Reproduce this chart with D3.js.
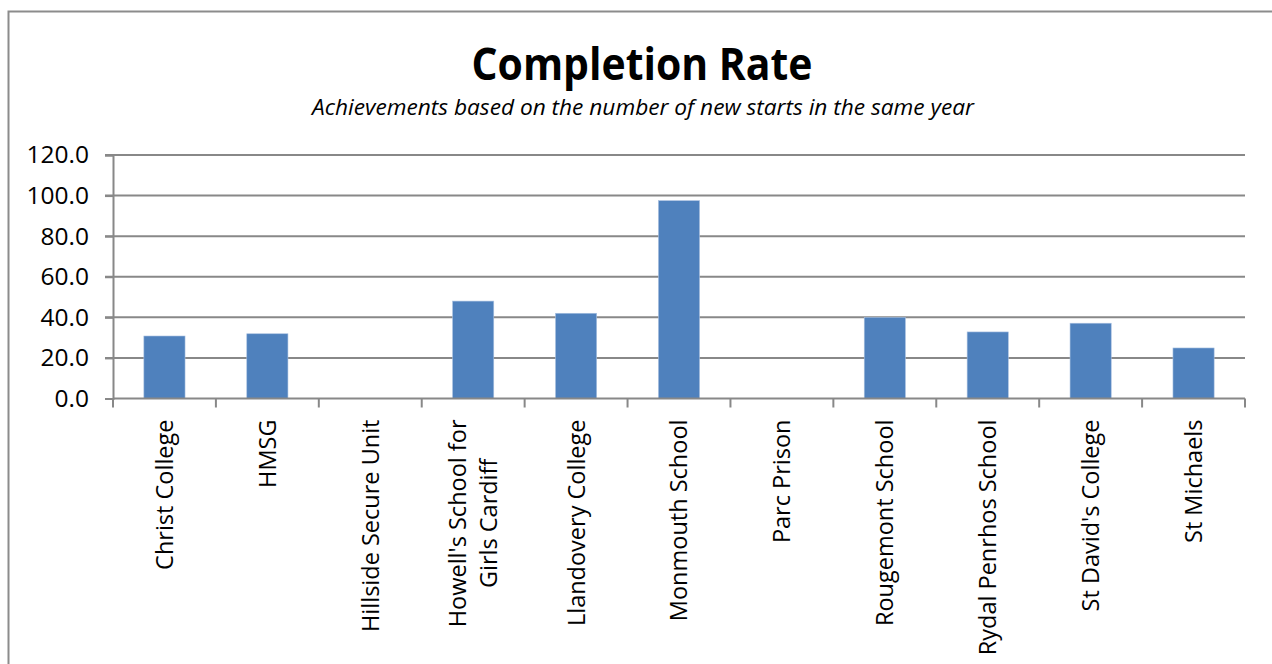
<!DOCTYPE html>
<html>
<head>
<meta charset="utf-8">
<script src="https://d3js.org/d3.v7.min.js"></script>
<style>
  html, body { margin: 0; padding: 0; background: #fff; }
  svg { display: block; }
  text { font-family: "Open Sans", "Noto Sans", sans-serif; fill: #000; }
</style>
</head>
<body>
<svg id="chart" width="1272" height="664"></svg>
<script>
const chartTitle = "Completion Rate";
const chartSubtitle = "Achievements based on the number of new starts in the same year";
const categories = [
  ["Christ College"],
  ["HMSG"],
  ["Hillside Secure Unit"],
  ["Howell's School for", "Girls Cardiff"],
  ["Llandovery College"],
  ["Monmouth School"],
  ["Parc Prison"],
  ["Rougemont School"],
  ["Rydal Penrhos School"],
  ["St David's College"],
  ["St Michaels"]
];
const completionRate = [30.8, 31.9, 0, 48.0, 42.0, 97.5, 0, 40.0, 32.8, 37.1, 24.9];
const yTicks = [0, 20, 40, 60, 80, 100, 120];

const svg = d3.select("#chart");
const W = 1272, H = 664;
const plot = { left: 113, right: 1245, top: 155, bottom: 398.5 };

svg.append("rect").attr("width", W).attr("height", H).attr("fill", "#fff");
// chart border
svg.append("rect")
  .attr("x", 8.5).attr("y", 11.5)
  .attr("width", 1300).attr("height", 700)
  .attr("fill", "none").attr("stroke", "#8c8c8c").attr("stroke-width", 2);

const keys = categories.map(d => d.join(" "));
const x = d3.scaleBand().domain(keys).range([plot.left, plot.right])
  .paddingInner(0.6).paddingOuter(0.3);
const y = d3.scaleLinear().domain([0, 120]).range([plot.bottom, plot.top]);

// gridlines
svg.append("g")
  .selectAll("line").data(yTicks.filter(t => t > 0)).join("line")
  .attr("x1", plot.left - 8).attr("x2", plot.right)
  .attr("y1", d => y(d)).attr("y2", d => y(d))
  .attr("stroke", "#888888").attr("stroke-width", 2);

// y axis
const yAxis = d3.axisLeft(y).tickValues(yTicks).tickFormat(d3.format(".1f")).tickSize(8).tickPadding(16);
const gy = svg.append("g").attr("transform", `translate(${plot.left},0)`).call(yAxis);
gy.select(".domain").attr("stroke", "#888888").attr("stroke-width", 2);
gy.selectAll(".tick line").attr("stroke", "#888888").attr("stroke-width", 2);
gy.selectAll(".tick text").attr("font-size", 24.5).attr("font-family", "'Open Sans', sans-serif").attr("fill", "#000");

// bars
svg.append("g").selectAll("rect").data(completionRate.map((v, i) => ({ k: keys[i], v }))).join("rect")
  .attr("x", d => x(d.k))
  .attr("width", x.bandwidth())
  .attr("y", d => y(d.v))
  .attr("height", d => y(0) - y(d.v))
  .attr("fill", "#4f81bd")
  .attr("stroke", "#a8c0e0").attr("stroke-width", 0.6);

// x axis line + ticks at band boundaries
const step = x.step();
const boundaries = d3.range(categories.length + 1).map(i => plot.left + i * step);
svg.append("line").attr("x1", plot.left).attr("x2", plot.right)
  .attr("y1", plot.bottom).attr("y2", plot.bottom)
  .attr("stroke", "#888888").attr("stroke-width", 2);
svg.append("g").selectAll("line").data(boundaries).join("line")
  .attr("x1", d => d).attr("x2", d => d)
  .attr("y1", plot.bottom).attr("y2", plot.bottom + 9)
  .attr("stroke", "#888888").attr("stroke-width", 2);

// x labels rotated
const lineH = 31;
const labels = svg.append("g").selectAll("text").data(categories).join("text")
  .attr("transform", (d, i) => `translate(${x(keys[i]) + x.bandwidth() / 2},${plot.bottom + 21}) rotate(-90)`)
  .attr("text-anchor", "middle")
  .attr("font-size", 23.5);
labels.each(function(lines) {
  const t = d3.select(this);
  const n = lines.length;
  lines.forEach((ln, j) => {
    t.append("tspan").attr("x", 0)
      .attr("y", (j - (n - 1) / 2) * lineH)
      .attr("dy", "0.36em")
      .text(ln);
  });
});
labels.each(function() {
  const t = d3.select(this);
  let maxLen = 0;
  t.selectAll("tspan").each(function() { maxLen = Math.max(maxLen, this.getComputedTextLength()); });
  t.selectAll("tspan").attr("x", -maxLen / 2);
});

// title
svg.append("text").attr("x", 642).attr("y", 80)
  .attr("text-anchor", "middle").attr("font-weight", "bold").attr("font-size", 45)
  .attr("textLength", 341).attr("lengthAdjust", "spacingAndGlyphs")
  .text(chartTitle);
svg.append("text").attr("x", 643).attr("y", 115)
  .attr("text-anchor", "middle").attr("font-style", "italic").attr("font-size", 21)
  .attr("textLength", 662).attr("lengthAdjust", "spacingAndGlyphs")
  .text(chartSubtitle);
</script>
</body>
</html>
